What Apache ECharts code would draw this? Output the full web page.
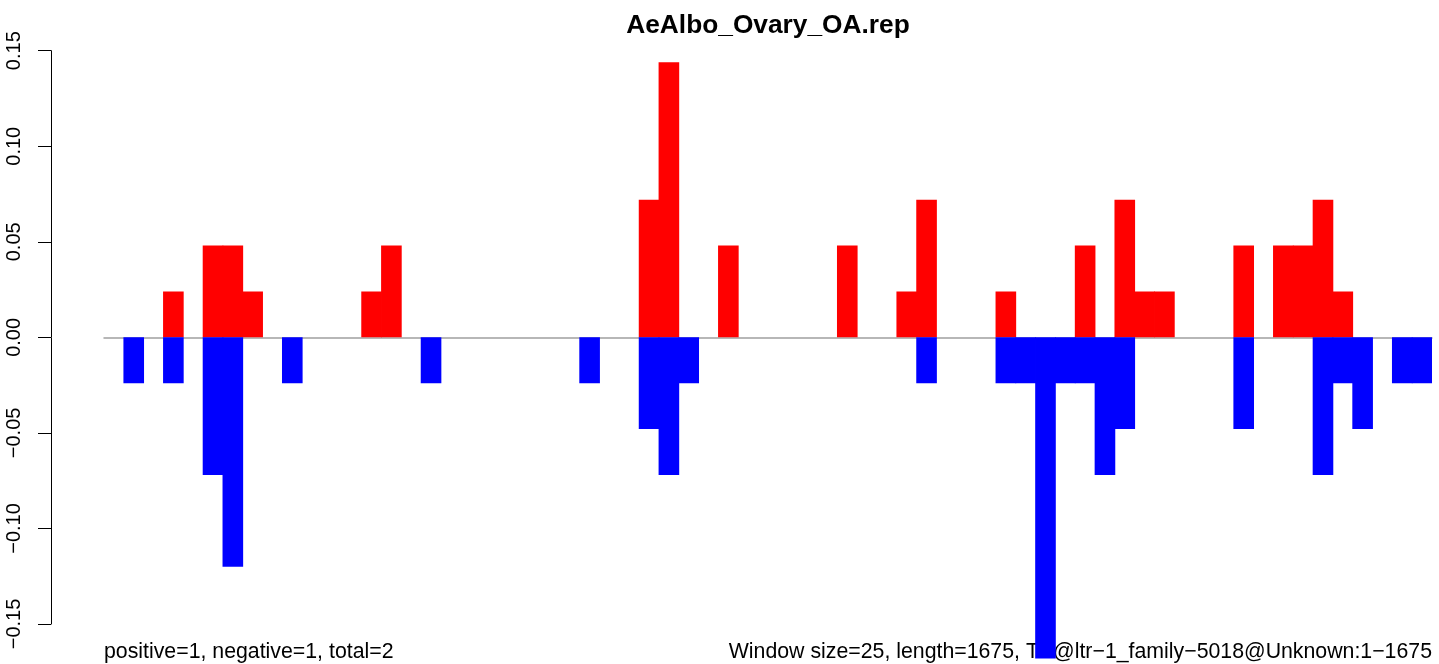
<!DOCTYPE html>
<html>
<head>
<meta charset="utf-8">
<script src="https://cdn.jsdelivr.net/npm/echarts@6/dist/echarts.min.js"></script>
<style>
html,body{margin:0;padding:0;background:#fff;}
#chart{width:1439px;height:664px;}
</style>
</head>
<body>
<div id="chart"></div>
<script>
// ---- data ----
var titleText = "AeAlbo_Ovary_OA.rep";
var footLeft = "positive=1, negative=1, total=2";
var footRight = "Window size=25, length=1675, TE@ltr\u22121_family\u22125018@Unknown:1\u22121675";
var windowCount = 67;
var categories = [];
for (var i = 0; i < windowCount; i++) categories.push(String(i + 1));
// positive (red) values by window index
var positiveValues = [
  null, null, null, 0.024, null, 0.048, 0.048, 0.024, null, null,
  null, null, null, 0.024, 0.048, null, null, null, null, null,
  null, null, null, null, null, null, null, 0.072, 0.144, null,
  null, 0.048, null, null, null, null, null, 0.048, null, null,
  0.024, 0.072, null, null, null, 0.024, null, null, null, 0.048,
  null, 0.072, 0.024, 0.024, null, null, null, 0.048, null, 0.048,
  0.048, 0.072, 0.024, null, null, null, null
];
// negative (blue) values by window index
var negativeValues = [
  null, -0.024, null, -0.024, null, -0.072, -0.12, null, null, -0.024,
  null, null, null, null, null, null, -0.024, null, null, null,
  null, null, null, null, -0.024, null, null, -0.048, -0.072, -0.024,
  null, null, null, null, null, null, null, null, null, null,
  null, -0.024, null, null, null, -0.024, -0.024, -0.168, -0.024, -0.024,
  -0.072, -0.048, null, null, null, null, null, -0.048, null, null,
  null, -0.072, -0.024, -0.048, null, -0.024, -0.024
];
var yTickValues = [-0.15, -0.10, -0.05, 0.00, 0.05, 0.10, 0.15];
var yTickLabels = ["\u22120.15", "\u22120.10", "\u22120.05", "0.00", "0.05", "0.10", "0.15"];

// ---- chart ----
var chart = echarts.init(document.getElementById('chart'), null, {renderer: 'canvas'});
var FONT = 'Liberation Sans, Arial, Helvetica, sans-serif';
var option = {
  animation: false,
  backgroundColor: '#ffffff',
  grid: [
    {left: 104, right: 7, top: 50.7, height: 611.5, containLabel: false},
    {left: 104, right: 7, top: 50.7, height: 573.3, containLabel: false}
  ],
  xAxis: [
    {
      type: 'category', gridIndex: 0, data: categories, boundaryGap: true,
      axisLine: {show: true, onZero: true, lineStyle: {color: '#a0a0a0', width: 1.5}},
      axisTick: {show: false}, axisLabel: {show: false}, splitLine: {show: false}
    },
    {type: 'value', gridIndex: 1, show: false}
  ],
  yAxis: [
    {
      type: 'value', gridIndex: 0, min: -0.17, max: 0.15,
      axisLine: {show: false}, axisTick: {show: false}, axisLabel: {show: false}, splitLine: {show: false}
    },
    {
      type: 'value', gridIndex: 1, min: -0.15, max: 0.15, interval: 0.05, offset: 53,
      axisLine: {show: true, onZero: false, lineStyle: {color: '#000', width: 1}},
      axisTick: {show: true, length: 13, lineStyle: {color: '#000', width: 1}},
      splitLine: {show: false},
      axisLabel: {
        rotate: 90, margin: 27, color: '#000', fontSize: 20, fontFamily: FONT,
        formatter: function (v) {
          var idx = Math.round((v - yTickValues[0]) / 0.05);
          return yTickLabels[idx] !== undefined ? yTickLabels[idx] : '';
        }
      }
    }
  ],
  series: [
    {
      type: 'bar', xAxisIndex: 0, yAxisIndex: 0, data: positiveValues,
      barWidth: '104%', barGap: '-100%', barCategoryGap: 0,
      itemStyle: {color: '#ff0000', borderWidth: 0}, z: 3
    },
    {
      type: 'bar', xAxisIndex: 0, yAxisIndex: 0, data: negativeValues,
      barWidth: '104%', barGap: '-100%', barCategoryGap: 0,
      itemStyle: {color: '#0000ff', borderWidth: 0}, z: 3
    }
  ],
  graphic: [
    {type: 'text', x: 768, y: 26, style: {text: titleText, fill: '#000', font: 'bold 26.3px ' + FONT, textAlign: 'center', textVerticalAlign: 'middle'}},
    {type: 'text', x: 104, y: 652, style: {text: footLeft, fill: '#000', font: '21.3px ' + FONT, textAlign: 'left', textVerticalAlign: 'middle'}},
    {type: 'text', x: 1432, y: 652, style: {text: footRight, fill: '#000', font: '21.3px ' + FONT, textAlign: 'right', textVerticalAlign: 'middle'}}
  ]
};
chart.setOption(option);
</script>
</body>
</html>
